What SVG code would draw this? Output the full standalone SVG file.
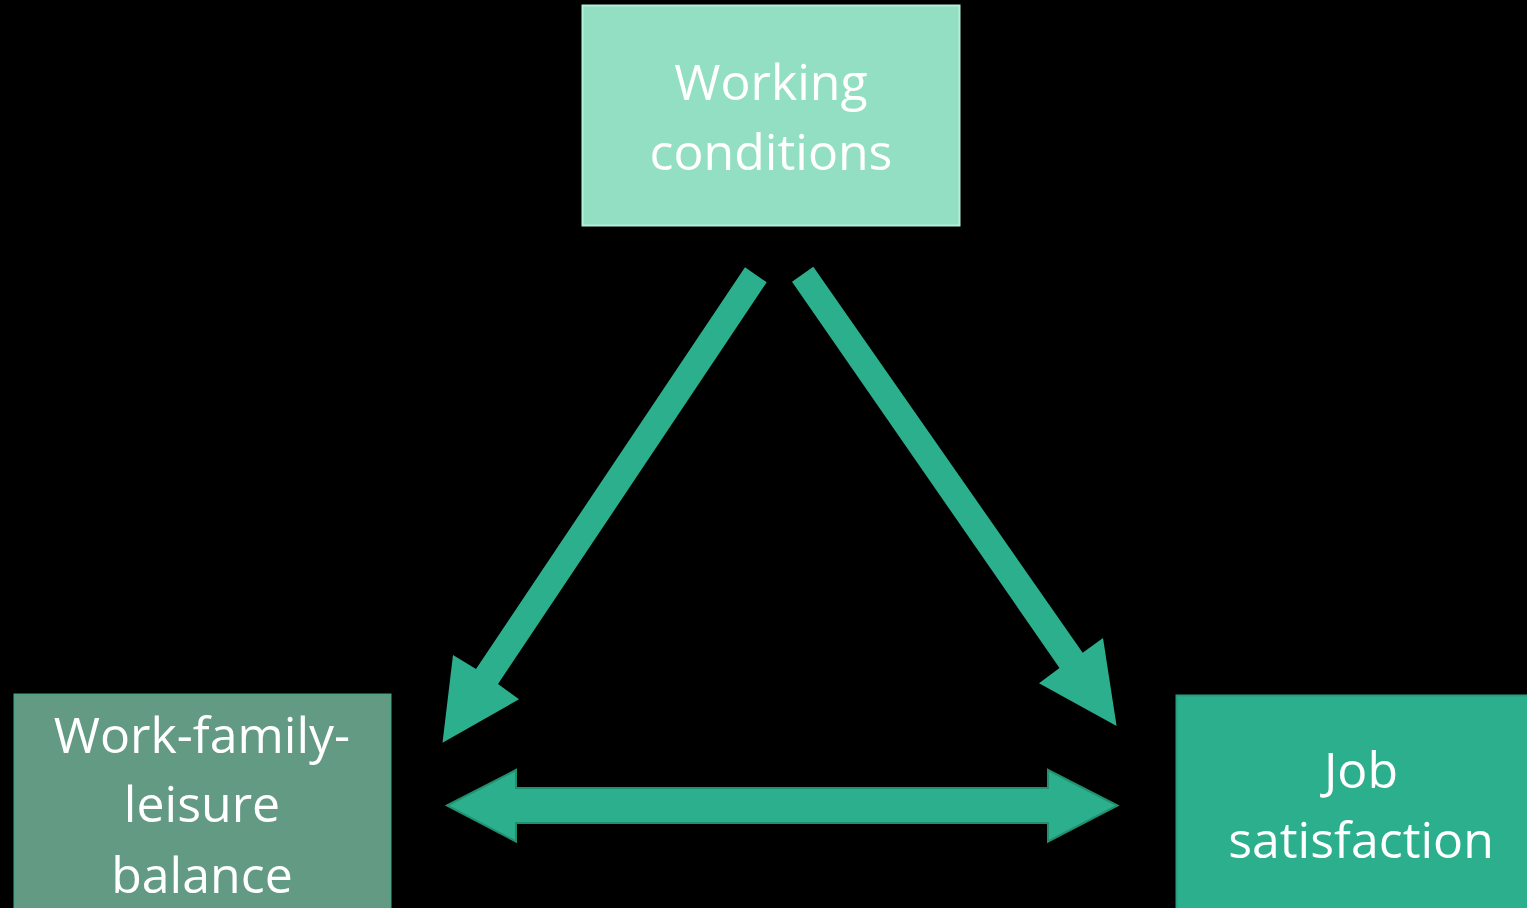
<svg xmlns="http://www.w3.org/2000/svg" width="1527" height="908" viewBox="0 0 1527 908">
  <style>
    .label { font-family: "Open Sans", "Liberation Sans", sans-serif; font-size: 50px; fill: #ffffff; text-anchor: middle; }
    .arrow { fill: #2BAF8C; }
  </style>
  <rect x="0" y="0" width="1527" height="908" fill="#000000"/>

  <!-- Connectors -->
  <g id="connectors">
    <!-- Working conditions -> Work-family-leisure balance -->
    <polygon class="arrow" points="745,267.3 766.7,282.3 498,684 519,699.3 442.5,742.7 453,655 476,669"/>
    <!-- Working conditions -> Job satisfaction -->
    <polygon class="arrow" points="813.3,266.7 792,281.7 1059.5,668 1039,683.3 1116.6,726 1103,638 1082.7,652.7"/>
    <!-- Work-family-leisure balance <-> Job satisfaction -->
    <polygon class="arrow" stroke="#21906F" stroke-width="2" stroke-linejoin="miter"
             points="447,805.5 516,770 516,788 1048,788 1048,770 1117.5,805.5 1048,841.5 1048,823 516,823 516,841.5"/>
  </g>

  <!-- Node: Working conditions -->
  <g id="node-working-conditions">
    <rect x="582.5" y="5.5" width="377" height="220" fill="#92DFC3" stroke="#B4F0D9" stroke-width="2"/>
    <text class="label" x="771" y="100">Working</text>
    <text class="label" x="771" y="170">conditions</text>
  </g>

  <!-- Node: Work-family-leisure balance -->
  <g id="node-balance">
    <rect x="14.5" y="694.5" width="376" height="230" fill="#629A83" stroke="#4FA283" stroke-width="2"/>
    <text class="label" x="202" y="753">Work-family-</text>
    <text class="label" x="202" y="822">leisure</text>
    <text class="label" x="202" y="893">balance</text>
  </g>

  <!-- Node: Job satisfaction -->
  <g id="node-job-satisfaction">
    <rect x="1176.5" y="695.5" width="380" height="230" fill="#2BAF8C" stroke="#2A9E80" stroke-width="2"/>
    <text class="label" x="1361" y="788">Job</text>
    <text class="label" x="1361" y="858">satisfaction</text>
  </g>
</svg>
